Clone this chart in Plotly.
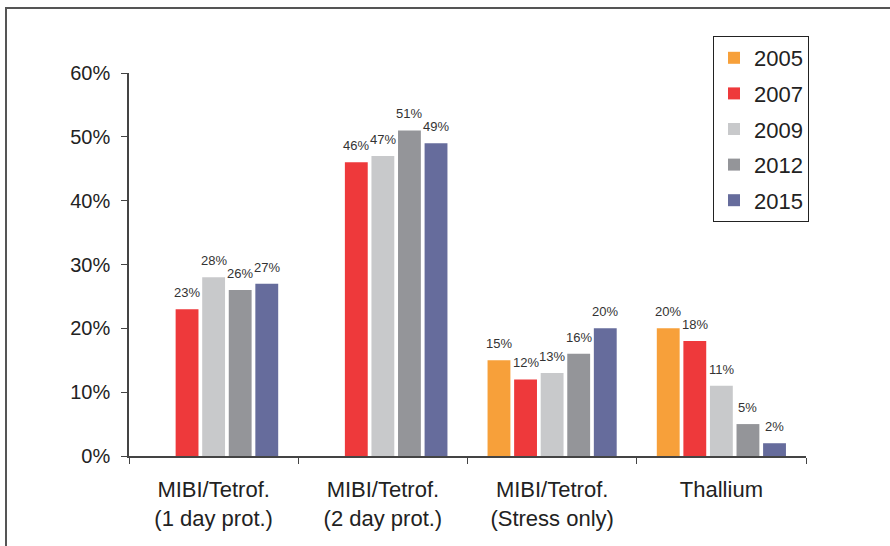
import plotly.graph_objects as go

categories = ["MIBI/Tetrof.<br>(1 day prot.)", "MIBI/Tetrof.<br>(2 day prot.)",
              "MIBI/Tetrof.<br>(Stress only)", "Thallium"]
years = ["2005", "2007", "2009", "2012", "2015"]
values_2005 = [None, None, 15, 20]
values_2007 = [23, 46, 12, 18]
values_2009 = [28, 47, 13, 11]
values_2012 = [26, 51, 16, 5]
values_2015 = [27, 49, 20, 2]
series = [values_2005, values_2007, values_2009, values_2012, values_2015]
colors = ["#F7A03A", "#EE393B", "#C8C9CB", "#949599", "#666C9C"]
y_ticks = [0, 10, 20, 30, 40, 50, 60]

FONT = "Liberation Sans, Arial, sans-serif"
BARGAP = 0.215
GROUPGAP = 0.14

# plot area edges in pixels
L, R, T, B = 129, 806, 73, 456
W, H = R - L, B - T

def px_x(p):
    return (p - L) / W

def px_y(p):
    return (B - p) / H

fig = go.Figure()
for year, vals, col in zip(years, series, colors):
    fig.add_trace(go.Bar(
        x=categories, y=vals, name=year, legendgroup=year,
        marker=dict(color=col, line=dict(width=0)),
    ))

# value labels above each bar, offset to the bar's slot within its group
slot_px = (W / len(categories)) * (1 - BARGAP) / len(years)
annotations = []
for j, vals in enumerate(series):
    for cat, v in zip(categories, vals):
        if v is None:
            continue
        annotations.append(dict(
            x=cat, y=v, xref="x", yref="y", text=f"{v}%", showarrow=False,
            xanchor="center", yanchor="bottom",
            xshift=(j - (len(years) - 1) / 2) * slot_px, yshift=7,
            font=dict(size=13, color="#333333", family=FONT),
        ))

fig.update_layout(
    width=890, height=546,
    margin=dict(l=L, r=890 - R, t=T, b=546 - B, pad=0),
    paper_bgcolor="white", plot_bgcolor="white",
    barmode="group", bargap=BARGAP, bargroupgap=GROUPGAP,
    font=dict(family=FONT, color="#222222"),
    showlegend=True,
    legend=dict(
        x=px_x(713), y=px_y(36), xanchor="left", yanchor="top",
        bordercolor="#222222", borderwidth=1, bgcolor="white",
        font=dict(size=22, color="#222222", family=FONT),
        tracegroupgap=4, itemwidth=30,
    ),
    xaxis=dict(
        showline=True, linecolor="#444444", linewidth=1.5,
        ticks="outside", ticklen=6, tickcolor="#444444", tickson="boundaries",
        tickfont=dict(size=22, color="#222222", family=FONT),
        ticklabelstandoff=13,
        showgrid=False, zeroline=False,
    ),
    yaxis=dict(
        range=[0, 60], tickvals=y_ticks, ticktext=[f"{t}%" for t in y_ticks],
        showline=True, linecolor="#444444", linewidth=1.5,
        ticks="outside", ticklen=6, tickcolor="#444444",
        tickfont=dict(size=20, color="#222222", family=FONT),
        ticklabelstandoff=7,
        showgrid=False, zeroline=False,
    ),
    annotations=annotations,
    shapes=[dict(
        type="rect", xref="paper", yref="paper",
        x0=px_x(6), x1=px_x(900), y0=px_y(560), y1=px_y(8),
        line=dict(color="#555555", width=2), fillcolor="rgba(0,0,0,0)",
        layer="below",
    )],
)

fig.write_html("out.html")
